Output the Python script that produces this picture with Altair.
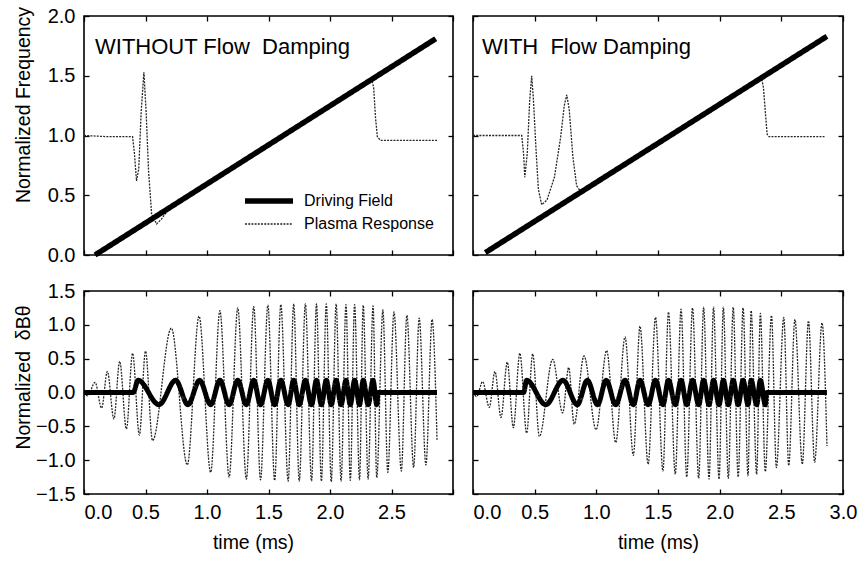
import altair as alt
import pandas as pd

FONT = "Liberation Sans"

# ---------------- data ----------------
series_names = ["Driving Field", "Plasma Response"]

# top panels: normalized frequency
drv_freq_L_t = [0.09, 2.86]
drv_freq_L_v = [0.0, 1.81]
pls_freq_L_t = [0.0, 0.2, 0.395, 0.41, 0.427, 0.445, 0.465, 0.487, 0.505, 0.525, 0.55, 0.59, 0.63,
                0.70, 0.80, 1.50, 2.34, 2.355, 2.37, 2.385, 2.41, 2.87]
pls_freq_L_v = [1.0, 0.99, 0.99, 0.85, 0.62, 0.72, 1.20, 1.53, 1.20, 0.70, 0.34, 0.26, 0.30,
                0.40, 0.46, 0.92, 1.47, 1.40, 1.15, 0.99, 0.96, 0.96]

drv_freq_R_t = [0.10, 2.87]
drv_freq_R_v = [0.02, 1.83]
pls_freq_R_t = [0.0, 0.2, 0.395, 0.41, 0.42, 0.44, 0.46, 0.476, 0.49, 0.51, 0.53, 0.557, 0.60, 0.66,
                0.71, 0.74, 0.76, 0.78, 0.81, 0.84, 0.88, 0.95, 1.0, 1.05, 1.50, 2.34, 2.355, 2.37,
                2.385, 2.40, 2.85]
pls_freq_R_v = [1.0, 1.0, 1.0, 0.85, 0.65, 0.85, 1.30, 1.50, 1.30, 0.90, 0.55, 0.42, 0.46, 0.65,
                0.98, 1.25, 1.34, 1.22, 0.82, 0.58, 0.52, 0.57, 0.62, 0.63, 0.92, 1.48, 1.40, 1.20,
                1.01, 0.99, 0.99]

# bottom panels: normalized dB_theta (extrema of the traces)
drv_b_L_t = [0.0, 0.40, 0.44, 0.61, 0.745, 0.845, 0.94, 1.03, 1.105, 1.18, 1.25, 1.32, 1.38, 1.435,
             1.495, 1.55, 1.60, 1.66, 1.705, 1.75, 1.80, 1.85, 1.89, 1.93, 1.97, 2.01, 2.05, 2.09,
             2.13, 2.165, 2.20, 2.24, 2.27, 2.31, 2.35, 2.38, 2.39, 2.87]
drv_b_L_v = [0.0, 0.0, 0.18, -0.18, 0.18, -0.18, 0.18, -0.18, 0.18, -0.18, 0.18, -0.18, 0.18, -0.18,
             0.18, -0.18, 0.18, -0.18, 0.18, -0.18, 0.18, -0.18, 0.18, -0.18, 0.18, -0.18, 0.18, -0.18,
             0.18, -0.18, 0.18, -0.18, 0.18, -0.18, 0.18, -0.18, 0.0, 0.0]
pls_b_L_t = [0.0, 0.03, 0.09, 0.143, 0.19, 0.243, 0.29, 0.345, 0.395, 0.45, 0.50, 0.557, 0.71, 0.84,
             0.935, 1.03, 1.105, 1.18, 1.25, 1.32, 1.38, 1.435, 1.495, 1.55, 1.60, 1.66, 1.705, 1.75,
             1.80, 1.85, 1.89, 1.93, 1.97, 2.01, 2.05, 2.09, 2.13, 2.165, 2.20, 2.24, 2.27, 2.31,
             2.35, 2.38, 2.43, 2.47, 2.52, 2.58, 2.625, 2.68, 2.725, 2.78, 2.83, 2.87]
pls_b_L_v = [0.0, -0.05, 0.15, -0.23, 0.31, -0.39, 0.46, -0.54, 0.58, -0.63, 0.61, -0.71, 0.95, -1.07,
             1.13, -1.18, 1.21, -1.25, 1.25, -1.28, 1.27, -1.29, 1.29, -1.30, 1.30, -1.31, 1.31, -1.31,
             1.31, -1.31, 1.31, -1.31, 1.31, -1.32, 1.31, -1.31, 1.30, -1.30, 1.30, -1.29, 1.29, -1.28,
             1.28, -1.26, 1.22, -1.18, 1.19, -1.16, 1.14, -1.11, 1.10, -1.07, 1.08, -0.70]

drv_b_R_t = [0.0, 0.41, 0.435, 0.59, 0.73, 0.846, 0.927, 1.01, 1.08, 1.157, 1.233, 1.30, 1.354, 1.42,
             1.48, 1.54, 1.585, 1.64, 1.687, 1.733, 1.78, 1.83, 1.87, 1.914, 1.95, 1.995, 2.03, 2.07,
             2.11, 2.15, 2.19, 2.23, 2.255, 2.30, 2.33, 2.37, 2.38, 2.87]
drv_b_R_v = drv_b_L_v
pls_b_R_t = [0.0, 0.03, 0.078, 0.132, 0.178, 0.227, 0.278, 0.327, 0.38, 0.435, 0.484, 0.538, 0.646,
             0.727, 0.776, 0.82, 0.90, 0.998, 1.084, 1.157, 1.233, 1.30, 1.354, 1.42, 1.48, 1.54,
             1.585, 1.64, 1.687, 1.733, 1.78, 1.83, 1.87, 1.914, 1.95, 1.995, 2.03, 2.07, 2.11, 2.15,
             2.19, 2.23, 2.255, 2.30, 2.33, 2.37, 2.42, 2.46, 2.52, 2.56, 2.61, 2.67, 2.72, 2.77,
             2.83, 2.87]
pls_b_R_v = [0.0, -0.06, 0.16, -0.22, 0.31, -0.37, 0.45, -0.52, 0.58, -0.60, 0.57, -0.65, 0.49,
             -0.30, 0.37, -0.47, 0.54, -0.55, 0.62, -0.74, 0.82, -0.93, 0.98, -1.06, 1.11, -1.16,
             1.19, -1.21, 1.23, -1.25, 1.25, -1.27, 1.26, -1.28, 1.26, -1.28, 1.26, -1.27, 1.26, -1.25,
             1.25, -1.23, 1.21, -1.21, 1.17, -1.17, 1.14, -1.11, 1.11, -1.08, 1.08, -1.06, 1.06, -1.03,
             1.03, -0.79]

x_ticks = [0.0, 0.5, 1.0, 1.5, 2.0, 2.5, 3.0]
y_ticks_top = [0.0, 0.5, 1.0, 1.5, 2.0]
y_ticks_bot = [-1.5, -1.0, -0.5, 0.0, 0.5, 1.0, 1.5]

NB = "\u00a0"  # keeps the double spaces of the original labels
panel_labels = ["WITHOUT Flow" + NB + " Damping", "WITH" + NB + " Flow Damping"]
y_titles = ["Normalized Frequency", "Normalized" + NB + " \u03b4B\u03b8"]
x_title = "time (ms)"

# ---------------- layout constants ----------------
W_L, W_R = 369, 370
H_T, H_B = 239, 203
TICK = 5
LBL = 20
TTL = 19.5
PLASMA_COLOR = "#262626"
PLASMA_DASH = [2, 1.2]
PLASMA_W = 1.3


def make_panel(d_t, d_v, p_t, p_v, width, height, ydom, yvals, show_x, show_y,
               ytitle, ytitle_y, xtitle, xtitle_x, drive_w, label_text, label_x,
               smooth, legend, hide_last_x):
    dfd = pd.DataFrame({"t": d_t, "v": d_v, "series": series_names[0]})
    dfp = pd.DataFrame({"t": p_t, "v": p_v, "series": series_names[1]})
    xs = alt.Scale(domain=[0, 3.0], nice=False, zero=False)
    ys = alt.Scale(domain=ydom, nice=False, zero=False)

    lab_expr = "format(datum.value, '.1f')"
    if hide_last_x:
        lab_expr = "datum.value > 2.9 ? '' : format(datum.value, '.1f')"

    xb_kw = dict(orient="bottom", values=x_ticks, labels=show_x, tickSize=TICK, offset=-TICK,
                 domain=False, grid=False, tickColor="black", tickWidth=1.3,
                 labelFont=FONT, labelFontSize=LBL, labelColor="black", labelPadding=8,
                 labelExpr=lab_expr,
                 labelAlign={"condition": {"test": "datum.value == 0", "value": "left"},
                             "value": "center"},
                 titleFont=FONT, titleFontSize=TTL, titleFontWeight="normal", titleColor="black")
    if xtitle:
        xb_kw.update(title=xtitle, titleX=xtitle_x, titleY=44)
    else:
        xb_kw.update(title=None)
    yl_kw = dict(orient="left", values=yvals, labels=show_y, format=".1f", tickSize=TICK,
                 offset=-TICK, domain=False, grid=False, tickColor="black", tickWidth=1.3,
                 labelFont=FONT, labelFontSize=LBL, labelColor="black", labelPadding=9,
                 titleFont=FONT, titleFontSize=TTL, titleFontWeight="normal", titleColor="black")
    if ytitle:
        yl_kw.update(title=ytitle, titleX=-56, titleY=ytitle_y)
    else:
        yl_kw.update(title=None)

    xt_axis = alt.Axis(orient="top", values=x_ticks, labels=False, tickSize=TICK, offset=-TICK,
                       domain=False, grid=False, tickColor="black", tickWidth=1.3, title=None)
    yr_axis = alt.Axis(orient="right", values=yvals, labels=False, tickSize=TICK, offset=-TICK,
                       domain=False, grid=False, tickColor="black", tickWidth=1.3, title=None)

    if legend is not None:
        enc_style = dict(
            color=alt.Color("series:N", scale=alt.Scale(domain=series_names,
                                                        range=["black", PLASMA_COLOR]),
                            legend=legend),
            strokeDash=alt.StrokeDash("series:N", scale=alt.Scale(domain=series_names,
                                                                  range=[[1, 0], PLASMA_DASH]),
                                      legend=legend),
            strokeWidth=alt.StrokeWidth("series:N", scale=alt.Scale(domain=series_names,
                                                                    range=[drive_w, PLASMA_W]),
                                        legend=legend),
        )
        p_style = enc_style
        d_style = enc_style
    else:
        p_style = dict(color=alt.value(PLASMA_COLOR), strokeDash=alt.value(PLASMA_DASH),
                       strokeWidth=alt.value(PLASMA_W))
        d_style = dict(color=alt.value("black"), strokeDash=alt.value([1, 0]),
                       strokeWidth=alt.value(drive_w))

    interp = "monotone" if smooth else "linear"
    plasma = alt.Chart(dfp).mark_line(interpolate=interp, strokeCap="butt").encode(
        x=alt.X("t:Q", scale=xs, axis=alt.Axis(**xb_kw)),
        y=alt.Y("v:Q", scale=ys, axis=alt.Axis(**yl_kw)),
        order="t:Q",
        **p_style,
    )
    drive = alt.Chart(dfd).mark_line(interpolate=interp, strokeCap="butt",
                                     strokeJoin="round").encode(
        x=alt.X("t:Q", scale=xs, axis=xt_axis),
        y=alt.Y("v:Q", scale=ys, axis=yr_axis),
        order="t:Q",
        **d_style,
    )
    layers = [plasma, drive]
    if label_text:
        txt = alt.Chart(pd.DataFrame({"label": [label_text]})).mark_text(
            align="left", baseline="alphabetic", font=FONT, fontSize=22, color="black"
        ).encode(text="label:N", x=alt.value(label_x), y=alt.value(38))
        layers.append(txt)
    return alt.layer(*layers).resolve_axis(x="independent", y="independent").properties(
        width=width, height=height)


leg = alt.Legend(orient="none", legendX=158, legendY=175, title=None, labelFont=FONT,
                 labelFontSize=16, labelColor="black", symbolType="stroke", symbolSize=2304,
                 clipHeight=20, rowPadding=3, labelOffset=8, padding=0)

tl = make_panel(drv_freq_L_t, drv_freq_L_v, pls_freq_L_t, pls_freq_L_v, W_L, H_T, [0, 2.0],
                y_ticks_top, False, True, y_titles[0], 88.5, None, 0, 5.5,
                panel_labels[0], 11, False, leg, True)
tr = make_panel(drv_freq_R_t, drv_freq_R_v, pls_freq_R_t, pls_freq_R_v, W_R, H_T, [0, 2.0],
                y_ticks_top, False, False, None, 0, None, 0, 5.5,
                panel_labels[1], 9, False, None, False)
bl = make_panel(drv_b_L_t, drv_b_L_v, pls_b_L_t, pls_b_L_v, W_L, H_B, [-1.5, 1.5],
                y_ticks_bot, True, True, y_titles[1], 86, x_title, 169, 5,
                None, 0, True, None, True)
br = make_panel(drv_b_R_t, drv_b_R_v, pls_b_R_t, pls_b_R_v, W_R, H_B, [-1.5, 1.5],
                y_ticks_bot, True, False, None, 0, x_title, 185, 5,
                None, 0, True, None, False)

chart = alt.concat(tl, tr, bl, br, columns=2, spacing={"row": 36, "column": 20},
                   bounds="flush").properties(
    padding={"left": 12, "top": 5, "right": 5, "bottom": 5},
    background="white",
).configure_view(stroke="black", strokeWidth=1.6)

chart.save("out.html", embed_options={"renderer": "svg", "actions": False})
